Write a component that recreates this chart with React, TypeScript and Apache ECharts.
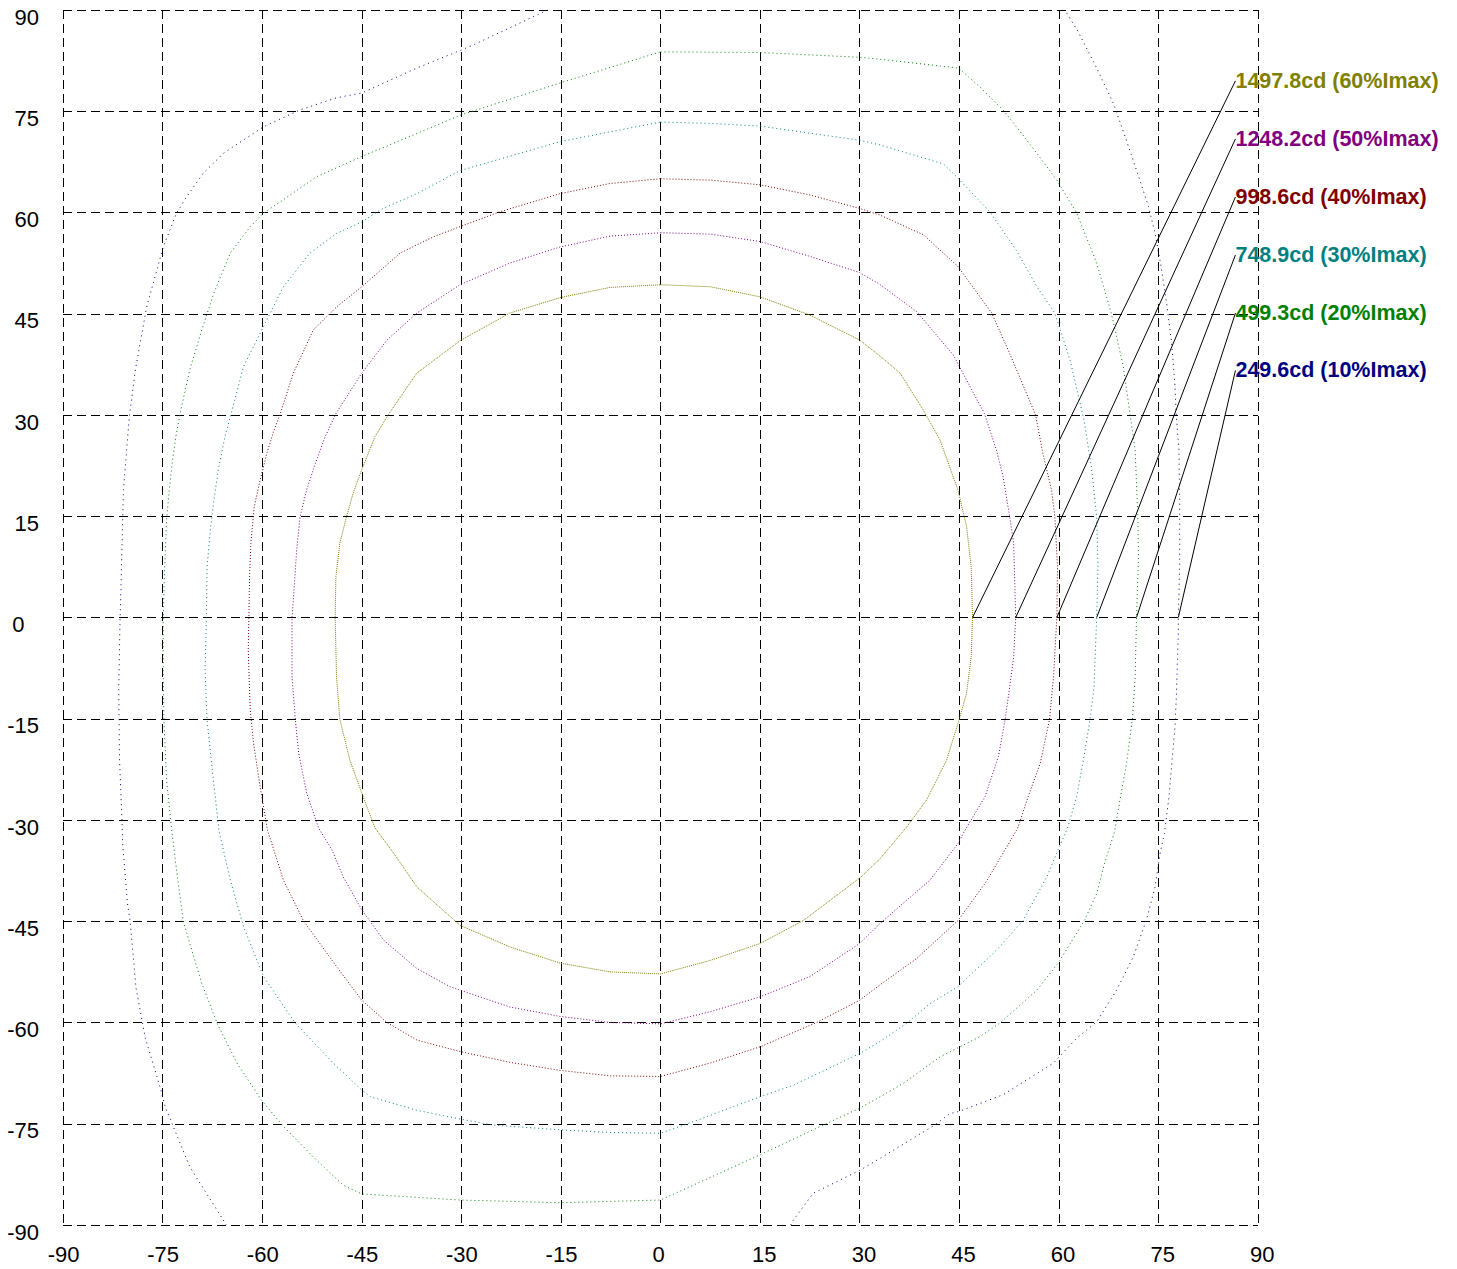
import React, { useEffect, useRef } from 'react';
import * as echarts from 'echarts';

// Axis ticks (degrees)
const axisMin = -90;
const axisMax = 90;
const axisStep = 15;

// Isocandela contour levels
const levelLabels = [
  '1497.8cd (60%Imax)',
  '1248.2cd (50%Imax)',
  '998.6cd (40%Imax)',
  '748.9cd (30%Imax)',
  '499.3cd (20%Imax)',
  '249.6cd (10%Imax)',
];
const levelColors = ['#808000', '#800080', '#800000', '#008080', '#008000', '#000080'];
const levelDash = [[1, 1], [1, 2], [1, 2], [1, 3], [1, 3], [1, 4]];

// 60% contour
const c60: number[][] = [
  [0, 49.3], [7.5, 49.0], [15, 47.5], [22.5, 44.8], [30, 41.1], [33.1, 38.7], [36.1, 36.2], [39.6, 30.7],
  [42.1, 26.3], [44.8, 18.9], [46.1, 13.5], [46.8, 7.5], [47.0, 0], [46.8, -5.8], [46.1, -11.2], [45.0, -15.1],
  [43.1, -21.1], [40.1, -27.0], [37.1, -31.0], [33.1, -35.7], [30, -38.6], [21.5, -44.9], [15, -48.3], [7.5, -50.8],
  [0, -52.8], [-7.6, -52.5], [-15.1, -51.2], [-22.7, -48.8], [-30.2, -45.6], [-36.7, -39.9], [-40.2, -34.9], [-43.0, -31.2],
  [-45.0, -26.0], [-46.8, -21.1], [-48.3, -15.1], [-48.8, -8.8], [-49.0, 0], [-48.9, 6.0], [-48.3, 11.0], [-47.3, 14.9],
  [-46.3, 18.4], [-45.0, 21.9], [-43.0, 26.8], [-40.9, 30.2], [-36.7, 36.2], [-30.2, 41.0], [-22.7, 45.1], [-15.1, 47.4],
  [-7.6, 48.9], [0, 49.3],
];

// 50% contour
const c50: number[][] = [
  [0, 57.0], [7.5, 56.8], [15, 55.7], [22.5, 53.5], [30, 51.1], [33.1, 49.3], [38.6, 45.3], [44.1, 38.9],
  [48.8, 30.2], [50.6, 24.8], [51.6, 20.9], [52.6, 14.9], [53.2, 11.0], [53.5, 0], [53.2, -5.8], [52.6, -10.3],
  [51.9, -15.2], [50.9, -20.6], [48.9, -26.5], [46.0, -31.3], [44.8, -33.5], [40.6, -38.9], [36.6, -42.3], [33.1, -45.3],
  [30, -48.3], [22.5, -53.2], [15, -56.2], [7.5, -58.4], [0, -60.2], [-7.6, -60.0], [-15.1, -59.1], [-22.7, -57.7],
  [-28.7, -55.7], [-31.7, -54.7], [-36.7, -52.0], [-41.7, -47.8], [-45.0, -43.3], [-47.8, -38.4], [-49.5, -34.4], [-51.5, -31.2],
  [-53.3, -26.0], [-54.5, -20.1], [-55.0, -15.2], [-55.5, -8.8], [-55.5, 0], [-55.2, 4.1], [-54.8, 10.0], [-54.3, 14.9],
  [-53.3, 18.9], [-52.0, 22.8], [-50.5, 26.8], [-48.9, 30.2], [-45.0, 36.2], [-41.2, 41.1], [-36.7, 45.1], [-30.2, 49.3],
  [-22.7, 52.5], [-15.1, 54.9], [-7.6, 56.5], [0, 57.0],
];

// 40% contour
const c40: number[][] = [
  [0, 65.0], [7.5, 64.8], [15, 64.1], [22.5, 62.6], [30, 60.6], [33.1, 59.6], [39.6, 56.7], [44.8, 52.0],
  [49.9, 45.1], [52.6, 39.1], [56.5, 30.0], [57.6, 24.3], [58.9, 18.9], [59.4, 14.9], [59.8, 7.5], [59.7, 0],
  [59.2, -8.8], [58.6, -15.1], [57.2, -21.6], [55.4, -26.5], [53.8, -31.2], [49.1, -39.1], [44.8, -44.9], [38.6, -50.5],
  [33.1, -54.4], [30, -56.7], [23.5, -60.0], [15, -63.6], [7.5, -66.0], [0, -68.0], [-7.6, -67.9], [-15.1, -67.1],
  [-22.7, -65.9], [-30.2, -64.3], [-36.7, -62.6], [-41.2, -60.0], [-45.0, -56.7], [-48.8, -51.7], [-53.8, -44.9], [-56.8, -38.9],
  [-59.2, -31.5], [-60.3, -25.1], [-61.3, -18.6], [-61.8, -13.7], [-62.1, -4.8], [-62.0, 0], [-61.9, 6.0], [-61.7, 11.0],
  [-61.2, 16.4], [-60.3, 20.4], [-59.3, 24.3], [-58.3, 27.5], [-57.3, 30.1], [-55.3, 36.2], [-52.3, 42.6], [-48.8, 46.0],
  [-45.0, 49.0], [-39.2, 54.0], [-34.2, 56.4], [-30.2, 57.9], [-24.2, 60.1], [-15.1, 62.8], [-7.6, 64.3], [0, 65.0],
];

// 30% contour
const c30: number[][] = [
  [0, 73.4], [7.5, 73.2], [15, 72.8], [30, 70.7], [33.1, 70.0], [42.6, 67.2], [44.8, 65.1], [49.6, 60.1],
  [53.6, 54.4], [56.7, 49.0], [59.4, 45.1], [61.7, 38.1], [63.8, 29.2], [64.9, 22.3], [65.7, 14.9], [65.9, 7.5],
  [65.7, 0], [65.3, -10.3], [64.7, -15.1], [63.7, -21.1], [62.7, -26.5], [61.3, -31.2], [59.9, -34.4], [58.2, -38.4],
  [54.6, -44.9], [50.6, -49.3], [44.8, -54.7], [40.6, -57.2], [37.1, -60.1], [33.1, -62.8], [30, -64.6], [20, -69.3],
  [15, -71.0], [4.9, -74.7], [0, -76.4], [-7.6, -76.3], [-15.1, -75.9], [-25.2, -75.2], [-30.2, -74.3], [-36.7, -73.0],
  [-43.7, -71.0], [-45.0, -70.0], [-49.3, -66.0], [-55.0, -60.1], [-59.8, -53.2], [-62.8, -45.8], [-64.8, -38.9], [-66.5, -31.6],
  [-67.4, -23.6], [-68.3, -15.2], [-68.6, -7.8], [-68.4, 0], [-68.3, 7.5], [-67.8, 13.0], [-67.3, 17.2], [-66.6, 21.9],
  [-65.6, 26.8], [-64.7, 30.1], [-62.8, 37.2], [-59.8, 43.1], [-56.8, 49.0], [-52.8, 54.0], [-48.8, 56.9], [-45.0, 58.6],
  [-42.2, 60.4], [-36.7, 62.8], [-30.2, 66.2], [-15.1, 70.5], [0, 73.4],
];

// 20% contour
const c20: number[][] = [
  [0, 83.8], [15, 83.7], [30, 83.0], [33.1, 82.7], [44.9, 81.4], [48.1, 78.6], [51.6, 75.2], [55.6, 70.2],
  [59.7, 64.8], [62.7, 59.9], [65.7, 52.5], [67.9, 45.1], [69.7, 37.2], [70.8, 29.6], [71.5, 24.8], [71.9, 14.9],
  [72.0, 9.0], [71.7, 0], [71.5, -8.8], [71.1, -14.9], [70.2, -21.6], [69.3, -26.5], [68.4, -31.7], [66.9, -36.4],
  [65.7, -40.9], [63.9, -44.8], [59.9, -51.2], [56.7, -55.2], [51.1, -60.1], [48.1, -62.1], [44.9, -63.7], [42.1, -65.1],
  [36.6, -69.0], [33.1, -71.0], [30, -72.7], [24.5, -75.2], [15, -79.6], [0, -86.3], [-15.1, -86.7], [-30.2, -86.3],
  [-45.0, -85.4], [-47.8, -84.1], [-51.8, -80.4], [-56.8, -75.4], [-60.1, -71.5], [-63.8, -66.0], [-66.8, -60.1], [-69.1, -54.2],
  [-70.9, -48.3], [-71.9, -44.9], [-72.9, -37.4], [-73.6, -31.7], [-74.4, -24.1], [-74.8, -15.2], [-74.9, -7.8], [-74.9, 0],
  [-74.7, 7.0], [-74.4, 14.4], [-74.0, 18.9], [-73.5, 23.3], [-73.0, 26.8], [-72.3, 30.5], [-70.9, 36.7], [-69.1, 42.6],
  [-67.3, 48.0], [-64.8, 54.0], [-61.8, 57.9], [-59.8, 59.9], [-56.8, 61.9], [-51.8, 65.3], [-45.0, 68.3], [-36.7, 71.7],
  [-30.2, 74.4], [-15.1, 79.2], [0, 83.8],
];

// 10% contour, left visible part
const c10a: number[][] = [
  [-17.0, 90], [-28.7, 84.6], [-36.7, 81.4], [-45.0, 77.7], [-48.8, 77.0], [-54.3, 75.2], [-59.8, 72.7], [-65.8, 68.8],
  [-68.9, 65.8], [-71.4, 62.3], [-72.9, 59.9], [-74.9, 54.9], [-77.4, 46.0], [-79.1, 36.7], [-80.0, 29.8], [-80.9, 18.9],
  [-81.3, 3.2], [-81.4, 0], [-81.6, -10.2], [-81.5, -20.6], [-81.1, -30.5], [-81.0, -33.7], [-80.3, -42.3], [-79.9, -44.9],
  [-79.0, -54.9], [-77.6, -62.3], [-75.4, -69.5], [-74.6, -72.5], [-73.6, -74.9], [-70.9, -81.4], [-65.9, -89.2], [-65.4, -90],
];

// 10% contour, right visible part
const c10b: number[][] = [
  [19.6, -90], [20.0, -89.3], [23.0, -85.3], [30.0, -81.9], [33.1, -80.1], [41.3, -75.2], [43.6, -73.5], [44.9, -73.2],
  [51.6, -70.7], [59.2, -66.0], [62.7, -62.3], [65.7, -59.9], [68.7, -55.2], [71.2, -50.3], [73.2, -44.8], [74.5, -39.9],
  [75.2, -35.2], [75.9, -32.0], [76.6, -26.5], [77.1, -20.6], [77.5, -16.2], [77.7, -11.7], [78.0, -2.3], [78.0, 0],
  [78.2, 7.5], [78.2, 17.4], [78.1, 24.8], [77.7, 29.7], [77.5, 34.2], [77.0, 40.6], [76.2, 46.8], [75.4, 52.0],
  [74.5, 56.9], [73.5, 60.9], [72.2, 64.8], [70.0, 71.2], [68.2, 76.2], [65.7, 81.4], [62.9, 86.8], [60.9, 90],
];

// Leader lines: start on contour at y=0, end at label anchor
const leaderStartX = [47.0, 53.5, 59.7, 65.7, 71.7, 78.0];
const leaderEndX = 86.6;
const leaderEndY = [79.5, 70.9, 62.3, 53.7, 45.1, 36.6];

const FONT = "'Liberation Sans', Arial, Helvetica, sans-serif";

export default function App() {
  const ref = useRef<HTMLDivElement>(null);

  useEffect(() => {
    if (!ref.current) return;
    const chart = echarts.init(ref.current, undefined, { renderer: 'svg' });

    const contourSets = [[c60], [c50], [c40], [c30], [c20], [c10a, c10b]];
    const series: any[] = [];

    contourSets.forEach((parts, i) => {
      parts.forEach((pts) => {
        series.push({
          type: 'line',
          data: pts,
          showSymbol: false,
          symbol: 'none',
          silent: true,
          clip: true,
          lineStyle: { color: levelColors[i], width: 1, type: levelDash[i] },
          z: 3,
        });
      });
    });

    leaderStartX.forEach((sx, i) => {
      series.push({
        type: 'line',
        data: [
          [sx, 0],
          [leaderEndX, leaderEndY[i]],
        ],
        showSymbol: false,
        symbol: 'none',
        silent: true,
        clip: false,
        lineStyle: { color: '#000', width: 1, type: 'solid' },
        z: 4,
        endLabel: {
          show: true,
          formatter: () => levelLabels[i],
          color: levelColors[i],
          fontFamily: FONT,
          fontWeight: 'bold',
          fontSize: 21.5,
          distance: 0,
          align: 'left',
          verticalAlign: 'middle',
        },
      });
    });

    const labelBase = { fontFamily: FONT, fontSize: 22, color: '#000' };

    chart.setOption({
      animation: false,
      backgroundColor: '#fff',
      grid: { left: 63, right: 199, top: 10, bottom: 44, containLabel: false, outerBoundsMode: 'none' },
      xAxis: {
        type: 'value',
        min: axisMin,
        max: axisMax,
        interval: axisStep,
        axisLine: { show: false },
        axisTick: { show: false },
        splitLine: { show: true, showMinLine: true, showMaxLine: true, lineStyle: { color: '#000', width: 1, type: [9, 5] } },
        axisLabel: {
          ...labelBase,
          margin: 18,
          showMinLabel: true,
          showMaxLabel: true,
          hideOverlap: false,
          align: 'center',
          formatter: (v: number) => (v < 0 ? `{n|${v}}` : v === 0 ? `{z|0}` : `{p|${v}}`),
          rich: {
            p: { ...labelBase, padding: [0, 0, 0, 8.5] },
            n: { ...labelBase, padding: [0, 0, 0, 1.2] },
            z: { ...labelBase, padding: [0, 3.8, 0, 0] },
          },
        },
      },
      yAxis: {
        type: 'value',
        min: axisMin,
        max: axisMax,
        interval: axisStep,
        axisLine: { show: false },
        axisTick: { show: false },
        splitLine: { show: true, showMinLine: true, showMaxLine: true, lineStyle: { color: '#000', width: 1, type: [9, 5] } },
        axisLabel: {
          ...labelBase,
          margin: 24,
          showMinLabel: true,
          showMaxLabel: true,
          hideOverlap: false,
          align: 'right',
          verticalAlign: 'middle',
          formatter: (v: number) => (v === 0 ? `{z|0}` : `{a|${v}}`),
          rich: {
            a: { ...labelBase, padding: [14, 0, 0, 0] },
            z: { ...labelBase, padding: [14, 14.5, 0, 0] },
          },
        },
      },
      series,
    });

    return () => chart.dispose();
  }, []);

  return (
    <div
      ref={ref}
      style={{ position: 'fixed', left: 0, top: 0, width: 1457, height: 1269, background: '#fff' }}
    />
  );
}
